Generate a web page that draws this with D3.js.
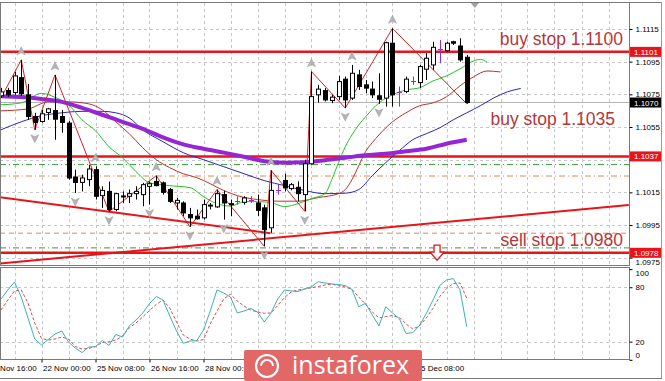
<!DOCTYPE html>
<html><head><meta charset="utf-8">
<script src="https://cdn.jsdelivr.net/npm/d3@7"></script>
<style>body{margin:0;background:#fff;overflow:hidden}svg{display:block}</style>
</head><body>
<svg id="c" width="665" height="381"></svg>
<script>
// ---------------- DATA ----------------
const barOpen  = [1.10741,1.10774,1.10761,1.10852,1.10747,1.10614,1.10584,1.10639,1.10651,1.10614,
                  1.10574,1.10244,1.10211,1.10228,1.10289,1.10130,1.10156,1.10045,1.10126,1.10126,
                  1.10142,1.10136,1.10187,1.10217,1.10208,1.10167,1.10085,1.10085,1.10014,1.10004,
                  1.09994,1.10069,1.10061,1.10136,1.10079,1.10099,1.10089,1.10106,1.10085,1.10055,
                  1.09933,1.10167,1.10223,1.10173,1.10181,1.10136,1.10325,1.10747,1.10773,1.10712,
                  1.10736,1.10843,1.10727,1.10869,1.10808,1.10782,1.10741,1.10727,1.11063,1.10767,
                  1.10767,1.10834,1.10822,1.10904,1.10930,1.11026,1.11017,1.11072,1.11046,1.10977];
const barHigh  = [1.10790,1.10790,1.10887,1.10961,1.10814,1.10637,1.10655,1.10667,1.10869,1.10655,
                  1.10588,1.10289,1.10258,1.10319,1.10309,1.10187,1.10216,1.10146,1.10156,1.10167,
                  1.10187,1.10208,1.10217,1.10252,1.10217,1.10177,1.10116,1.10095,1.10055,1.10045,
                  1.10106,1.10085,1.10167,1.10160,1.10106,1.10126,1.10126,1.10126,1.10136,1.10075,
                  1.10285,1.10197,1.10264,1.10208,1.10217,1.10350,1.10889,1.10808,1.10788,1.10747,
                  1.10863,1.10859,1.10930,1.10900,1.10838,1.10828,1.10879,1.11072,1.11154,1.10798,
                  1.10859,1.10859,1.10930,1.11002,1.11072,1.11083,1.11072,1.11078,1.11093,1.10991];
const barLow   = [1.10728,1.10735,1.10747,1.10741,1.10594,1.10533,1.10576,1.10594,1.10472,1.10515,
                  1.10228,1.10146,1.10156,1.10187,1.10106,1.10055,1.10032,1.10034,1.10085,1.10085,
                  1.10106,1.10065,1.10075,1.10187,1.10136,1.10085,1.10045,1.10004,1.09939,1.09983,
                  1.09983,1.10045,1.10055,1.09983,1.10004,1.10075,1.10075,1.10085,1.10004,1.09820,
                  1.09902,1.10136,1.10156,1.10162,1.10095,1.10034,1.10319,1.10700,1.10706,1.10696,
                  1.10716,1.10666,1.10716,1.10777,1.10757,1.10727,1.10692,1.10675,1.10675,1.10675,
                  1.10757,1.10808,1.10788,1.10838,1.10900,1.10940,1.11011,1.11052,1.10950,1.10692];
const barClose = [1.10765,1.10747,1.10863,1.10753,1.10614,1.10578,1.10631,1.10661,1.10598,1.10578,
                  1.10238,1.10211,1.10238,1.10293,1.10126,1.10162,1.10045,1.10142,1.10128,1.10142,
                  1.10156,1.10197,1.10203,1.10191,1.10150,1.10095,1.10101,1.10024,1.09994,1.09988,
                  1.10075,1.10072,1.10142,1.10085,1.10081,1.10099,1.10116,1.10106,1.10040,1.09922,
                  1.10162,1.10167,1.10177,1.10197,1.10142,1.10325,1.10736,1.10782,1.10716,1.10733,
                  1.10828,1.10716,1.10879,1.10798,1.10788,1.10747,1.10720,1.11066,1.10747,1.10767,
                  1.10843,1.10834,1.10920,1.10971,1.11038,1.11026,1.11063,1.11063,1.10961,1.10700];

// Alligator lines (display bar index, price)
const lipsBars  = [0,3,6,8,10,12,14,16,18,20,22,25,28,30,32,34,36,38,40,42,44,46,48,49,50,51,52,53,54,56,58,60,62,64,66,68,70,71,72];
const lipsVals  = [1.10686,1.10698,1.10756,1.10732,1.10686,1.10594,1.10527,1.10429,1.10362,1.10277,1.10209,1.10191,1.10179,1.10124,1.10081,1.10066,1.10093,1.10093,1.10087,1.10063,1.10081,1.10112,1.10142,1.10228,1.10332,1.10429,1.10502,1.10563,1.10612,1.10698,1.10747,1.10777,1.10790,1.10832,1.10863,1.10906,1.10954,1.10964,1.10948];
const teethBars = [0,4,7,10,13,15,17,19,21,23,25,27,29,31,33,35,38,41,44,47,50,51,52,53,54,55,56,58,60,62,64,66,68,70,72,74];
const teethVals = [1.10649,1.10661,1.10704,1.10704,1.10692,1.10655,1.10582,1.10509,1.10423,1.10350,1.10301,1.10264,1.10240,1.10203,1.10161,1.10130,1.10106,1.10096,1.10096,1.10118,1.10142,1.10167,1.10228,1.10313,1.10399,1.10454,1.10502,1.10582,1.10637,1.10680,1.10698,1.10735,1.10802,1.10857,1.10893,1.10887];
const jawBars   = [0,3,6,9,12,15,17,19,21,24,27,30,33,36,39,42,45,48,51,53,55,57,59,61,63,65,67,69,71,73,75,77];
const jawVals   = [1.10533,1.10582,1.10619,1.10637,1.10646,1.10646,1.10637,1.10606,1.10533,1.10460,1.10393,1.10350,1.10307,1.10264,1.10222,1.10191,1.10161,1.10142,1.10145,1.10167,1.10252,1.10332,1.10405,1.10472,1.10509,1.10545,1.10594,1.10637,1.10680,1.10728,1.10765,1.10786];
const maBars    = [0,3,6,9,12,15,18,21,24,27,30,33,36,39,42,45,48,51,54,57,60,63,66,69];
const maVals    = [1.10738,1.10733,1.10722,1.10704,1.10667,1.10625,1.10582,1.10539,1.10487,1.10444,1.10417,1.10393,1.10368,1.10341,1.10332,1.10335,1.10347,1.10362,1.10377,1.10386,1.10402,1.10417,1.10448,1.10472];

// ZigZag pivots and fractals
const zigBars  = [0,3,5,8,16,23,28,32,39,40,45,46,51,58,69];
const zigKinds = ["L","H","L","H","L","H","L","H","L","H","L","H","L","H","L"];
const fractalUp   = [3,8,14,23,32,40,46,52,58];
const fractalDown = [5,11,16,22,28,33,39,45,51,56];

// Stochastic
const stochK = [67.0,77.0,85.8,69.2,46.1,22.9,16.3,22.4,28.4,31.8,19.6,13.0,8.0,14.1,14.4,21.3,15.8,27.9,25.1,37.3,
                43.9,51.6,62.1,69.8,65.9,48.3,31.8,18.2,20.7,21.1,32.9,53.8,77.0,73.6,69.2,51.6,53.8,56.6,52.7,41.7,
                51.6,67.0,77.0,75.9,75.3,78.1,80.6,86.1,84.7,83.6,83.0,81.9,77.5,58.5,62.3,49.4,37.3,58.5,51.6,45.5,
                29.0,29.9,37.8,51.0,65.9,81.9,88.0,89.6,77.0,36.5];
const stochD = [54.9,65.9,75.9,77.0,62.6,40.6,23.5,21.8,22.9,25.1,22.9,14.7,11.9,12.5,14.7,19.1,19.8,21.8,26.2,35.1,
                40.6,47.2,54.4,61.0,65.9,57.1,41.7,27.3,22.9,20.7,22.4,39.5,53.8,67.0,72.5,64.8,59.3,54.9,52.7,51.3,
                51.6,59.9,68.7,74.8,77.0,78.1,79.4,80.8,82.5,83.4,81.8,80.3,77.5,69.2,61.5,52.7,46.1,47.7,48.8,46.6,
                39.5,34.0,37.3,46.1,56.8,69.8,78.4,84.1,84.7,67.8];

// Levels, trend lines, labels, ticks
const redLevels        = [1.1101, 1.1037, 1.0978];
const greenDashDot     = [1.1032, 1.0981];
const orangeDashDot    = [1.1025];
const orangeDashed     = [1.0990];
const bidPrice         = 1.1070;
const trendDownBars  = [-0.15, 39.9];
const trendDownPrices= [1.10120, 1.09900];
const trendUpBars    = [-0.15, 93.0];
const trendUpPrices  = [1.09715, 1.10072];
const orderTexts  = ["buy stop 1.1100", "buy stop 1.1035", "sell stop 1.0980"];
const orderPrices = [1.11055, 1.10564, 1.09824];
const priceTicks = [1.0975,1.0995,1.1015,1.1035,1.1055,1.1075,1.1095,1.1115];
const priceTickLabels = ["1.0975","1.0995","1.1015","","1.1055","1.1075","1.1095","1.1115"];
const stochTicks = [0,20,80,100];
const stochLevels = [20,80];
const timeTickBars   = [-2,6,14,22,30,62];
const timeTickLabels = ["20 Nov 16:00","22 Nov 00:00","25 Nov 08:00","26 Nov 16:00","28 Nov 00:00","5 Dec 08:00"];
const sellArrowBar = 64.6;
const sellArrowPrice = 1.0979;

// ---------------- LAYOUT ----------------
const svg = d3.select("#c");
const P = {l:0, r:629, mt:3, mb:265, st:267, sb:359};
const x  = d3.scaleLinear().domain([0,69]).range([1,466.75]);
const y  = d3.scaleLinear().domain([1.0975,1.1115]).range([257.7,29]);
const ys = d3.scaleLinear().domain([0,100]).range([359.8,269.1]);
const FONT = "'Liberation Sans', Arial, sans-serif";
const gridBars = d3.range(2, 94, 4);

svg.append("rect").attr("width",665).attr("height",381).attr("fill","#fff");
const defs = svg.append("defs");
defs.append("clipPath").attr("id","cm").append("rect").attr("x",P.l).attr("y",P.mt).attr("width",P.r-P.l).attr("height",P.mb-P.mt);
defs.append("clipPath").attr("id","cs").append("rect").attr("x",P.l).attr("y",P.st).attr("width",P.r-P.l).attr("height",P.sb-P.st);

const gm = svg.append("g").attr("clip-path","url(#cm)");
const gs = svg.append("g").attr("clip-path","url(#cs)");
const crisp = v => Math.round(v)+0.5;

// grids
gm.selectAll(".vg").data(gridBars).join("line")
  .attr("x1",d=>crisp(x(d))).attr("x2",d=>crisp(x(d))).attr("y1",P.mt).attr("y2",P.mb)
  .attr("stroke","#c6c6c6").attr("stroke-dasharray","3,3");
gm.selectAll(".hg").data(priceTicks).join("line")
  .attr("x1",P.l).attr("x2",P.r).attr("y1",d=>crisp(y(d))).attr("y2",d=>crisp(y(d)))
  .attr("stroke","#c6c6c6").attr("stroke-dasharray","3,3");
gs.selectAll(".vg").data(gridBars).join("line")
  .attr("x1",d=>crisp(x(d))).attr("x2",d=>crisp(x(d))).attr("y1",P.st).attr("y2",P.sb)
  .attr("stroke","#c6c6c6").attr("stroke-dasharray","3,3");
gs.selectAll(".hg").data(stochLevels).join("line")
  .attr("x1",P.l).attr("x2",P.r).attr("y1",d=>crisp(ys(d))).attr("y2",d=>crisp(ys(d)))
  .attr("stroke","#c6c6c6").attr("stroke-dasharray","3,3");

// horizontal levels
const hline = (arr, color, dash, w) => gm.append("g").selectAll("line").data(arr).join("line")
  .attr("x1",P.l).attr("x2",P.r).attr("y1",d=>y(d)).attr("y2",d=>y(d))
  .attr("stroke",color).attr("stroke-width",w).attr("stroke-dasharray",dash);
hline([bidPrice], "#b4b4b4", null, 1);
hline(greenDashDot, "#3a9a3a", "6,3,1,3", 1);
hline(orangeDashDot, "#e0885a", "6,3,1,3", 1);
hline(orangeDashed, "#e0885a", "5,4", 1);
hline(redLevels, "#e8141a", null, 2.5);

// trend lines
const tl = (bars, prices) => gm.append("line")
  .attr("x1",x(bars[0])).attr("y1",y(prices[0])).attr("x2",x(bars[1])).attr("y2",y(prices[1]))
  .attr("stroke","#e8141a").attr("stroke-width",2);
tl(trendDownBars, trendDownPrices);
tl(trendUpBars, trendUpPrices);

// moving averages
const mkLine = (bars, vals, color, w) => gm.append("path")
  .datum(bars.map((b,i)=>[b, vals[i]]))
  .attr("d", d3.line().x(d=>x(d[0])).y(d=>y(d[1])).curve(d3.curveMonotoneX))
  .attr("fill","none").attr("stroke",color).attr("stroke-width",w);
mkLine(jawBars, jawVals, "#2828b4", 1);
mkLine(teethBars, teethVals, "#c0302a", 1);
mkLine(lipsBars, lipsVals, "#22c422", 1);
mkLine(maBars, maVals, "#9426d6", 4);

// zigzag
gm.append("path").datum(zigBars.map((b,i)=>[b, zigKinds[i]==="H"?barHigh[b]:barLow[b]]))
  .attr("d", d3.line().x(d=>x(d[0])).y(d=>y(d[1])))
  .attr("fill","none").attr("stroke","#c8282a").attr("stroke-width",1);

// candles
const idx = d3.range(barOpen.length);
const cg = gm.append("g");
idx.forEach(i=>{
  const cx = crisp(x(i));
  const o=barOpen[i], c=barClose[i];
  const doji = o===c;
  const col = doji ? "#9a2ad0" : "#000";
  cg.append("line").attr("x1",cx).attr("x2",cx).attr("y1",y(barHigh[i])).attr("y2",y(barLow[i]))
    .attr("stroke",col).attr("stroke-width",1);
  if(doji){
    cg.append("line").attr("x1",cx-2.5).attr("x2",cx+2.5).attr("y1",crisp(y(o))).attr("y2",crisp(y(o)))
      .attr("stroke",col).attr("stroke-width",1);
  } else {
    const top = y(Math.max(o,c)), bot = y(Math.min(o,c));
    cg.append("rect").attr("x",cx-2).attr("y",top).attr("width",4).attr("height",Math.max(1,bot-top))
      .attr("fill", c>o ? "#fff" : "#000").attr("stroke","#000").attr("stroke-width",1);
  }
});

// fractal arrows
const arrowUp = "M0,-5 L4,3 L0,1 L-4,3 Z";
gm.append("g").selectAll("path").data(fractalUp).join("path")
  .attr("d",arrowUp).attr("transform",d=>`translate(${x(d)},${y(barHigh[d])-8})`)
  .attr("fill","#b4b4b4").attr("stroke","#999").attr("stroke-width",0.5);
gm.append("g").selectAll("path").data(fractalDown).join("path")
  .attr("d",arrowUp).attr("transform",d=>`translate(${x(d)},${y(barLow[d])+8}) rotate(180)`)
  .attr("fill","#b4b4b4").attr("stroke","#999").attr("stroke-width",0.5);

// sell arrow (hollow)
{
  const ax = x(sellArrowBar), ay = y(sellArrowPrice);
  gm.append("path").attr("d",`M${ax-3},${ay-6} h6 v7 h4 l-7,8 l-7,-8 h4 Z`)
    .attr("fill","#fff").attr("stroke","#e8141a").attr("stroke-width",1.3);
}

// order labels
svg.append("g").selectAll("text").data(orderTexts).join("text")
  .attr("x",(d,i)=> i===1 ? 615 : 623).attr("y",(d,i)=>y(orderPrices[i]))
  .attr("text-anchor","end").attr("font-family",FONT).attr("font-size",17.5)
  .attr("fill","#b3383a").text(d=>d);

// stochastic lines
gs.append("path").datum(stochD).attr("d", d3.line().x((d,i)=>x(i)).y(d=>ys(d)))
  .attr("fill","none").attr("stroke","#e04848").attr("stroke-width",1).attr("stroke-dasharray","3,2");
gs.append("path").datum(stochK).attr("d", d3.line().x((d,i)=>x(i)).y(d=>ys(d)))
  .attr("fill","none").attr("stroke","#3cb2b2").attr("stroke-width",1);

// frames
svg.append("rect").attr("x",0.5).attr("y",P.mt-0.5).attr("width",P.r).attr("height",P.mb-P.mt+1)
  .attr("fill","none").attr("stroke","#7a7a7a");
svg.append("rect").attr("x",0.5).attr("y",P.st+0.5).attr("width",P.r).attr("height",P.sb-P.st)
  .attr("fill","none").attr("stroke","#7a7a7a");
svg.append("line").attr("x1",0).attr("x2",662).attr("y1",2.5).attr("y2",2.5).attr("stroke","#7a7a7a");
svg.append("line").attr("x1",661.5).attr("x2",661.5).attr("y1",2).attr("y2",378).attr("stroke","#9a9a9a");
svg.append("line").attr("x1",0).attr("x2",662).attr("y1",378.5).attr("y2",378.5).attr("stroke","#7a7a7a");

// price axis
const ax1 = svg.append("g").attr("transform",`translate(${P.r+0.5},0)`)
  .call(d3.axisRight(y).tickValues(priceTicks).tickFormat((d,i)=>priceTickLabels[i]).tickSize(3).tickPadding(3));
ax1.select(".domain").remove();
ax1.selectAll("text").attr("font-family",FONT).attr("font-size",8).attr("fill","#000")
  .attr("dy",d=> d===1.0975 ? "0.85em" : "0.32em");
ax1.selectAll("line").attr("stroke","#000");

const ax2 = svg.append("g").attr("transform",`translate(${P.r+0.5},0)`)
  .call(d3.axisRight(ys).tickValues(stochTicks).tickSize(3).tickPadding(3));
ax2.select(".domain").remove();
ax2.selectAll("text").attr("font-family",FONT).attr("font-size",8).attr("fill","#000")
  .attr("dy",d=> d===100 ? "0.85em" : d===0 ? "-0.3em" : "0.32em");
ax2.selectAll("line").attr("stroke","#000");

// price tags
const tag = (price, bg) => {
  const g = svg.append("g").attr("transform",`translate(${P.r+1},${y(price)})`);
  g.append("rect").attr("x",0).attr("y",-5).attr("width",31).attr("height",10).attr("fill",bg);
  g.append("text").attr("x",4).attr("y",3).attr("font-family",FONT).attr("font-size",8)
    .attr("fill","#fff").text(d3.format(".4f")(price));
};
redLevels.forEach(p=>tag(p,"#e8141a"));
tag(bidPrice,"#000");

// time axis
const ax3 = svg.append("g").attr("transform",`translate(0,${P.sb+0.5})`)
  .call(d3.axisBottom(x).tickValues(timeTickBars).tickFormat((d,i)=>timeTickLabels[i]).tickSize(3).tickPadding(2));
ax3.select(".domain").remove();
ax3.selectAll("text").attr("font-family",FONT).attr("font-size",8).attr("fill","#000")
  .attr("text-anchor","start").attr("dx",1).attr("dy","0.75em");
ax3.selectAll("line").attr("stroke","#000");

// chart shift marker
svg.append("path").attr("d",`M${x(70.2)-4},3 h8 l-4,5 Z`).attr("fill","#a0a0a0");

// watermark
const wm = svg.append("g");
wm.append("rect").attr("x",244).attr("y",350).attr("width",178).attr("height",31).attr("rx",2).attr("fill","#e26868");
wm.append("circle").attr("cx",267).attr("cy",366).attr("r",11).attr("fill","none").attr("stroke","#fff").attr("stroke-width",2.2);
wm.append("path").attr("d","M261,366 a6,6 0 0 1 12,0").attr("fill","none").attr("stroke","#fff").attr("stroke-width",2);
wm.append("text").attr("x",292).attr("y",374).attr("font-family","'Open Sans', sans-serif").attr("font-size",25)
  .attr("fill","#fff").text("instaforex");
</script>
</body></html>
